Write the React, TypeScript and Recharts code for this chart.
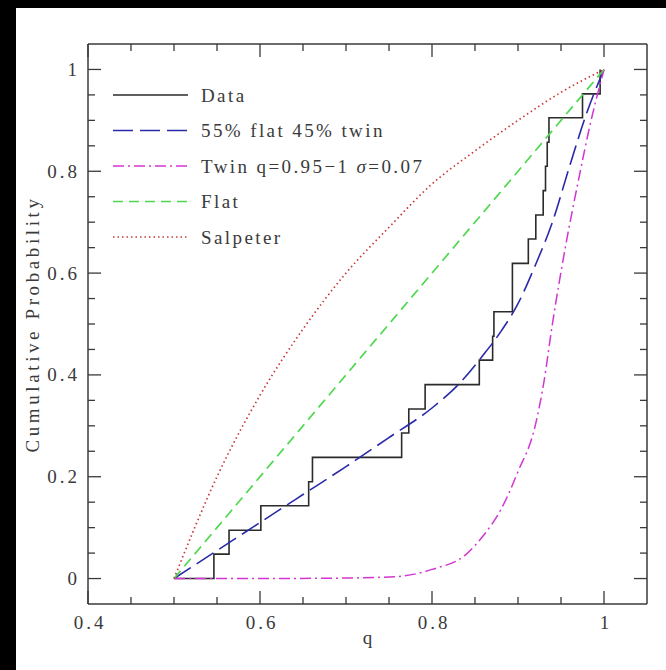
import React from "react";
import { LineChart, Line, XAxis, YAxis, Legend } from "recharts";

// empirical CDF of the measured mass ratios
const dataQ = [0.5, 0.5464, 0.564, 0.601, 0.6566, 0.661, 0.7647, 0.773, 0.792, 0.855, 0.8705, 0.872, 0.8935, 0.8935, 0.912, 0.9207, 0.9293, 0.932, 0.934, 0.936, 0.975, 0.9955];
const dataP = [0, 0.048, 0.095, 0.143, 0.19, 0.238, 0.286, 0.333, 0.381, 0.429, 0.476, 0.524, 0.571, 0.619, 0.667, 0.714, 0.762, 0.81, 0.857, 0.905, 0.952, 1.0];

// 55% flat + 45% twin model
const mixQ = [0.5, 0.55, 0.6, 0.65, 0.7, 0.75, 0.8, 0.83, 0.86, 0.88, 0.9, 0.92, 0.94, 0.96, 0.98, 1.0];
const mixP = [0, 0.055, 0.11, 0.165, 0.22, 0.277, 0.335, 0.38, 0.44, 0.485, 0.54, 0.615, 0.7, 0.81, 0.915, 1.0];

// twin only
const twinQ = [0.5, 0.6, 0.7, 0.76, 0.8, 0.84, 0.86, 0.88, 0.9, 0.92, 0.93, 0.94, 0.955, 0.97, 0.985, 1.0];
const twinP = [0, 0, 0.001, 0.004, 0.018, 0.048, 0.085, 0.135, 0.21, 0.3, 0.385, 0.5, 0.65, 0.78, 0.9, 1.0];

const flatQ = [0.5, 1.0];
const flatP = [0, 1.0];

const salpQ = [0.5, 0.55, 0.6, 0.65, 0.7, 0.75, 0.8, 0.85, 0.9, 0.95, 1.0];
const salpP = [0, 0.2, 0.36, 0.49, 0.6, 0.69, 0.775, 0.84, 0.9, 0.955, 1.0];

const xTicks = [0.4, 0.45, 0.5, 0.55, 0.6, 0.65, 0.7, 0.75, 0.8, 0.85, 0.9, 0.95, 1.0];
const xMajor = [0.4, 0.6, 0.8, 1.0];
const yTicks = [0, 0.05, 0.1, 0.15, 0.2, 0.25, 0.3, 0.35, 0.4, 0.45, 0.5, 0.55, 0.6, 0.65, 0.7, 0.75, 0.8, 0.85, 0.9, 0.95, 1.0];
const yMajor = [0, 0.2, 0.4, 0.6, 0.8, 1.0];

const zip = (q: number[], p: number[]) => q.map((v, i) => ({ q: v, p: p[i] }));

const FONT = "'Liberation Serif', 'DejaVu Serif', serif";
const INK = "#3a3a3a";

const series = [
  { name: "Data", data: zip(dataQ, dataP), color: "#2b2b2b", dash: undefined, type: "stepAfter", width: 1.6 },
  { name: "55% flat 45% twin", data: zip(mixQ, mixP), color: "#2a2aa8", dash: "20 7", type: "monotone", width: 1.6 },
  { name: "twin", data: zip(twinQ, twinP), color: "#d236d2", dash: "11 4 2 4", type: "monotone", width: 1.5 },
  { name: "Flat", data: zip(flatQ, flatP), color: "#4fd84f", dash: "10 6", type: "linear", width: 1.7 },
  { name: "Salpeter", data: zip(salpQ, salpP), color: "#c83a3a", dash: "1.5 3", type: "monotone", width: 1.7 },
];

const isMajor = (v: number, list: number[]) => list.some((m) => Math.abs(m - v) < 1e-6);
const fmt = (v: number) => String(Math.round(v * 10) / 10);

const labelStyle = { fontFamily: FONT, fontSize: 19, fill: INK, stroke: "none", letterSpacing: 2.4 };
const tickStyle = { ...labelStyle, letterSpacing: 3 };

function makeTick(side: string, majors: number[], showLabels: boolean) {
  return (props: any) => {
    const { x, y, payload } = props;
    const v = payload.value;
    const major = isMajor(v, majors);
    const len = major ? 13 : 7;
    let line;
    let label = null;
    if (side === "bottom") {
      line = <line x1={x} y1={y} x2={x} y2={y - len} />;
      if (major && showLabels)
        label = <text x={x + 2} y={y + 18} textAnchor="middle" dominantBaseline="central" style={tickStyle}>{fmt(v)}</text>;
    } else if (side === "top") {
      line = <line x1={x} y1={y} x2={x} y2={y + len} />;
    } else if (side === "left") {
      line = <line x1={x} y1={y} x2={x + len} y2={y} />;
      if (major && showLabels)
        label = <text x={x - 8} y={y} textAnchor="end" dominantBaseline="central" style={tickStyle}>{fmt(v)}</text>;
    } else {
      line = <line x1={x} y1={y} x2={x - len} y2={y} />;
    }
    return (
      <g>
        <g stroke={INK} strokeWidth={1.3}>{line}</g>
        {label}
      </g>
    );
  };
}

function LegendBox() {
  return (
    <svg width={440} height={180}>
      {series.map((s, i) => {
        const y = 15 + i * 35.5;
        return (
          <g key={s.name}>
            <line x1={8} x2={83} y1={y} y2={y} stroke={s.color} strokeWidth={s.width} strokeDasharray={s.dash} />
            <text x={96} y={y} dominantBaseline="central" style={labelStyle}>
              {s.name === "twin" ? (
                <>
                  Twin q=0.95−1 <tspan fontStyle="italic">σ</tspan>=0.07
                </>
              ) : (
                s.name
              )}
            </text>
          </g>
        );
      })}
    </svg>
  );
}

const axisLine = { stroke: INK, strokeWidth: 1.5 };

export default function App() {
  return (
    <div style={{ position: "absolute", left: 0, top: 0, width: 666, height: 670, background: "#fff" }}>
      <div style={{ position: "absolute", left: 0, top: 0, width: 666, height: 8, background: "#000" }} />
      <div style={{ position: "absolute", left: 0, top: 0, width: 16, height: 670, background: "#000" }} />
      <div style={{ position: "absolute", left: 0, top: 0 }}>
        <LineChart width={666} height={670} margin={{ top: 0, right: 0, bottom: 0, left: 0 }}>
          <XAxis
            xAxisId={0}
            dataKey="q"
            type="number"
            domain={[0.4, 1.05]}
            allowDataOverflow
            ticks={xTicks}
            interval={0}
            tickSize={0}
            tickMargin={0}
            tickLine={false}
            axisLine={axisLine}
            height={66}
            tick={makeTick("bottom", xMajor, true)}
            label={{ value: "q", position: "insideBottom", offset: 26, style: { ...labelStyle, letterSpacing: 0 } }}
          />
          <XAxis
            xAxisId="top"
            orientation="top"
            dataKey="q"
            type="number"
            domain={[0.4, 1.05]}
            allowDataOverflow
            ticks={xTicks}
            interval={0}
            tickSize={0}
            tickMargin={0}
            tickLine={false}
            axisLine={axisLine}
            height={44}
            tick={makeTick("top", xMajor, false)}
          />
          <YAxis
            yAxisId={0}
            type="number"
            domain={[-0.05, 1.05]}
            allowDataOverflow
            ticks={yTicks}
            interval={0}
            tickSize={0}
            tickMargin={0}
            tickLine={false}
            axisLine={axisLine}
            width={88}
            tick={makeTick("left", yMajor, true)}
            label={{
              value: "Cumulative Probability",
              position: "insideLeft",
              angle: -90,
              offset: 32,
              style: { ...labelStyle, letterSpacing: 3.6, textAnchor: "middle" },
            }}
          />
          <YAxis
            yAxisId="right"
            orientation="right"
            type="number"
            domain={[-0.05, 1.05]}
            allowDataOverflow
            ticks={yTicks}
            interval={0}
            tickSize={0}
            tickMargin={0}
            tickLine={false}
            axisLine={axisLine}
            width={19}
            tick={makeTick("right", yMajor, false)}
          />
          <Legend
            layout="vertical"
            align="center"
            verticalAlign="middle"
            wrapperStyle={{ left: 105, top: 80, width: 440 }}
            content={() => <LegendBox />}
          />
          {series.map((s) => (
            <Line
              key={s.name}
              data={s.data}
              dataKey="p"
              type={s.type as any}
              stroke={s.color}
              strokeWidth={s.width}
              strokeDasharray={s.dash}
              dot={false}
              activeDot={false}
              isAnimationActive={false}
              legendType="none"
            />
          ))}
        </LineChart>
      </div>
    </div>
  );
}
